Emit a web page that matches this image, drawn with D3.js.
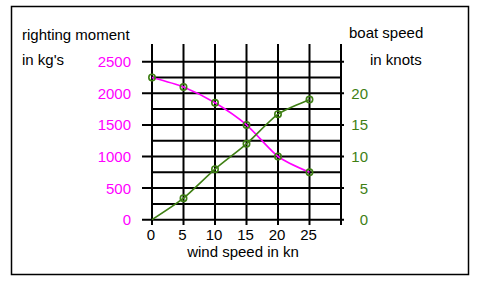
<!DOCTYPE html>
<html><head><meta charset="utf-8">
<script src="https://cdn.jsdelivr.net/npm/d3@7"></script>
<style>html,body{margin:0;padding:0;background:#fff;}svg{display:block;font-family:"Liberation Sans",Arial,sans-serif;}</style>
</head><body><svg id="c" width="480" height="282"></svg>
<script>
const windSpeed = [0, 5, 10, 15, 20, 25];
const rightingMoment = [2250, 2100, 1850, 1500, 1000, 750];
const boatSpeedX = [0, 5, 10, 15, 20, 25];
const boatSpeed = [0, 3.4, 8, 12, 16.7, 19];
const xTicks = [0, 5, 10, 15, 20, 25];
const leftTicks = [0, 500, 1000, 1500, 2000, 2500];
const rightTicks = [0, 5, 10, 15, 20];

const svg = d3.select("#c");
const magenta = "#ff00ff", green = "#3f7f14";
const fs = 15;

svg.append("rect").attr("x", 11.5).attr("y", 6.5).attr("width", 457).attr("height", 268)
  .attr("fill", "none").attr("stroke", "#000").attr("stroke-width", 1.5);

const x = d3.scaleLinear().domain([0, 30]).range([152, 341]);
const yL = d3.scaleLinear().domain([0, 2500]).range([219.7, 61.7]);
const yR = d3.scaleLinear().domain([0, 25]).range([219.7, 61.7]);

const g = svg.append("g");
g.selectAll(".v").data(d3.range(0, 31, 5)).join("line")
  .attr("x1", d => x(d)).attr("x2", d => x(d)).attr("y1", 44).attr("y2", 225)
  .attr("stroke", "#000").attr("stroke-width", 2);
g.selectAll(".h").data(d3.range(0, 2501, 250)).join("line")
  .attr("x1", d => d % 500 === 0 ? 142 : x(0)).attr("x2", d => d % 500 === 0 ? 344 : x(30))
  .attr("y1", d => yL(d)).attr("y2", d => yL(d))
  .attr("stroke", "#000").attr("stroke-width", 2);

svg.selectAll(".lt").data(leftTicks).join("text")
  .attr("x", 131).attr("y", d => yL(d) + 5.5).attr("text-anchor", "end")
  .attr("font-size", fs).attr("fill", magenta).text(d => d);
svg.selectAll(".rt").data(rightTicks).join("text")
  .attr("x", 368).attr("y", d => yR(d) + 5.5).attr("text-anchor", "end")
  .attr("font-size", fs).attr("fill", green).text(d => d);
svg.selectAll(".xt").data(xTicks).join("text")
  .attr("x", d => x(d) - 1).attr("y", 240).attr("text-anchor", "middle")
  .attr("font-size", fs).attr("fill", "#000").text(d => d);

svg.append("text").attr("x", 243).attr("y", 257).attr("text-anchor", "middle")
  .attr("font-size", fs).text("wind speed in kn");
svg.append("text").attr("x", 22).attr("y", 40).attr("font-size", fs).text("righting moment");
svg.append("text").attr("x", 22).attr("y", 65).attr("font-size", fs).text("in kg's");
svg.append("text").attr("x", 349).attr("y", 38).attr("font-size", fs).text("boat speed");
svg.append("text").attr("x", 370).attr("y", 65).attr("font-size", fs).text("in knots");

const lineL = d3.line().x((d, i) => x(windSpeed[i])).y(d => yL(d)).curve(d3.curveCardinal.tension(0.3));
svg.append("path").datum(rightingMoment).attr("d", lineL)
  .attr("fill", "none").attr("stroke", magenta).attr("stroke-width", 1.6);
const lineR = d3.line().x((d, i) => x(boatSpeedX[i])).y(d => yR(d)).curve(d3.curveCardinal.tension(0.3));
svg.append("path").datum(boatSpeed).attr("d", lineR)
  .attr("fill", "none").attr("stroke", green).attr("stroke-width", 1.6);

svg.selectAll(".mL").data(rightingMoment).join("circle")
  .attr("cx", (d, i) => x(windSpeed[i])).attr("cy", d => yL(d)).attr("r", 3.2)
  .attr("fill", "none").attr("stroke", green).attr("stroke-width", 1.6);
svg.selectAll(".mR").data(boatSpeed.slice(1)).join("circle")
  .attr("cx", (d, i) => x(boatSpeedX[i + 1])).attr("cy", d => yR(d)).attr("r", 3.2)
  .attr("fill", "none").attr("stroke", green).attr("stroke-width", 1.6);
</script></body></html>
